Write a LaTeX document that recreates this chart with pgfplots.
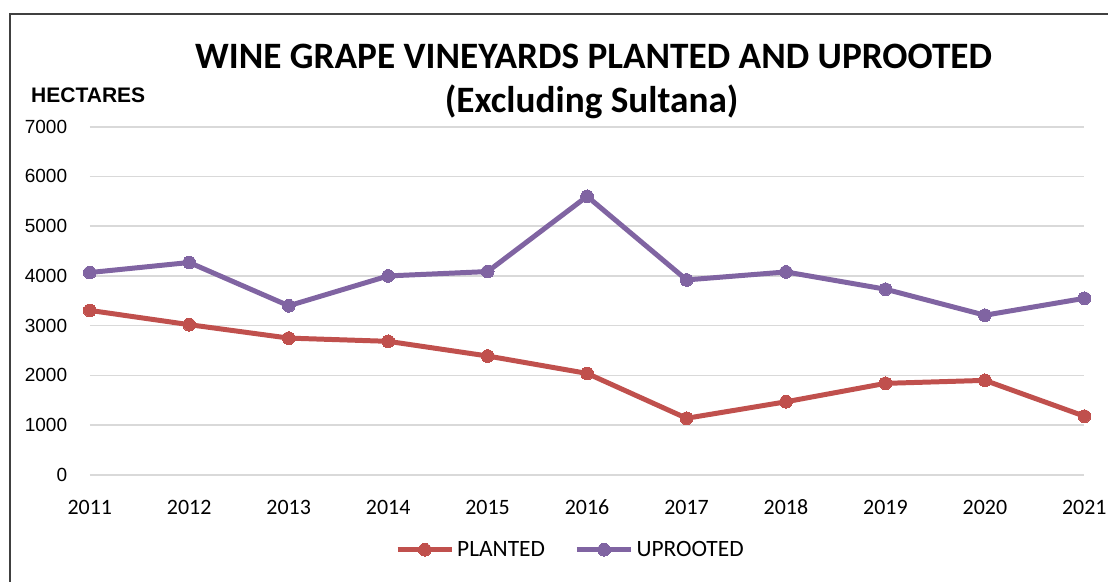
\documentclass[border=0pt]{standalone}
\usepackage{pgfplots}
\pgfplotsset{compat=1.18}
\usepackage{fontspec}
\setmainfont{Carlito}
\newfontfamily\arial{Liberation Sans}
\definecolor{cred}{HTML}{C0504D}
\definecolor{cpurple}{HTML}{8064A2}
\definecolor{cgrid}{HTML}{D9D9D9}
\begin{document}
\begin{tikzpicture}
\begin{axis}[
  at={(0,0)}, anchor=south west,
  scale only axis, width=747.75pt, height=261.75pt,
  xmin=2011, xmax=2021, ymin=0, ymax=7000,
  xtick={2011,...,2021}, ytick={0,1000,...,7000},
  axis line style={draw=none},
  major tick length=0pt,
  ymajorgrids, major grid style={cgrid, line width=1.2pt},
  /pgf/number format/1000 sep={},
  /pgf/number format/assume math mode=true,
  xticklabel style={font=\fontsize{16.5}{19}\selectfont, text height=12pt, text depth=0pt, yshift=-14pt},
  yticklabel style={font=\arial\fontsize{14.3}{17}\selectfont, xshift=-13.5pt},
  clip=false,
  legend columns=2,
  legend style={draw=none, at={(0.4835,-0.215)}, anchor=center,
    font=\fontsize{17.6}{20}\selectfont,
    /tikz/every even column/.append style={column sep=20pt}},
  legend image code/.code={\draw[mark repeat=2,mark phase=2,#1] plot coordinates {(0pt,0pt) (20.5pt,0pt) (41pt,0pt)};},
]
\addplot[cred, line width=3.75pt, mark=*, mark size=4.8pt, mark options={solid, line width=0pt, fill=cred}] coordinates {
(2011,3307) (2012,3020) (2013,2750) (2014,2685) (2015,2390) (2016,2040)
(2017,1138) (2018,1470) (2019,1840) (2020,1900) (2021,1180)};
\addlegendentry{PLANTED}
\addplot[cpurple, line width=3.75pt, mark=*, mark size=4.8pt, mark options={solid, line width=0pt, fill=cpurple}] coordinates {
(2011,4068) (2012,4270) (2013,3400) (2014,4000) (2015,4088) (2016,5600)
(2017,3920) (2018,4080) (2019,3733) (2020,3210) (2021,3550)};
\addlegendentry{UPROOTED}
\end{axis}
\begin{scope}[shift={(-67.5pt,357pt)}, x=0.75pt, y=-0.75pt]
\path[use as bounding box] (0,0) rectangle (1111,583);
\draw[black!75, line width=0.9pt] (10,583) -- (10,14) -- (1111,14);
\node[font=\bfseries\fontsize{28}{33}\selectfont, inner sep=0pt] at (595,57) {WINE GRAPE VINEYARDS PLANTED AND UPROOTED};
\node[font=\bfseries\fontsize{28}{33}\selectfont, inner sep=0pt] at (593,102) {(Excluding Sultana)};
\node[font=\arial\bfseries\fontsize{15.8}{18}\selectfont, anchor=west, inner sep=0pt] at (31,95) {HECTARES};
\end{scope}
\end{tikzpicture}
\end{document}
